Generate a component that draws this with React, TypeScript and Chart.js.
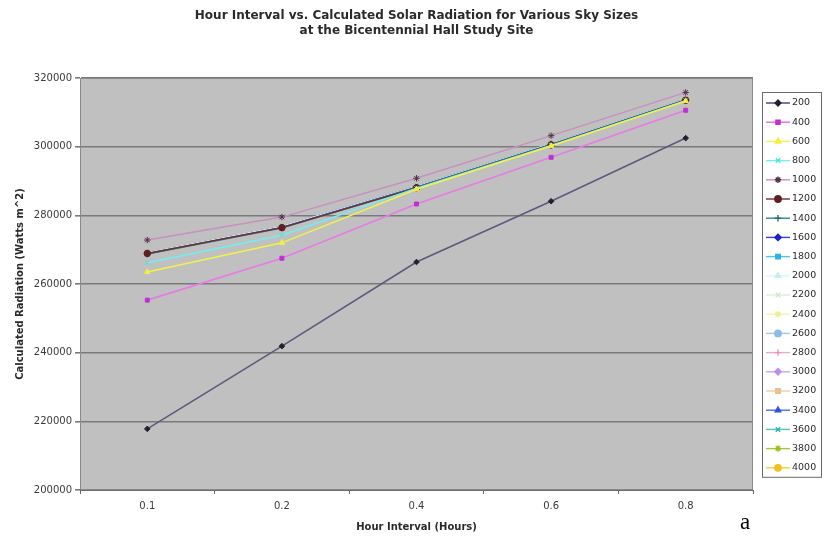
import React, { useEffect, useRef } from 'react';
import { Chart, registerables } from 'chart.js';
import { drawPoint } from 'chart.js/helpers';

Chart.register(...registerables);

// Hour interval categories (x axis)
const hourIntervals = ['0.1', '0.2', '0.4', '0.6', '0.8'];

// Sky sizes (one series each)
const skySizes = [
  '200', '400', '600', '800', '1000', '1200', '1400', '1600', '1800', '2000',
  '2200', '2400', '2600', '2800', '3000', '3200', '3400', '3600', '3800', '4000',
];

// Calculated radiation per sky size (Watts m^2)
const rad200 = [217800, 241900, 266400, 284100, 302500];
const rad400 = [255300, 267500, 283300, 296900, 310600];
const rad600 = [263500, 272000, 287600, 300200, 313300];
const rad800 = [266200, 274200, 287900, 300400, 313400];
const rad1000 = [272800, 279500, 290800, 303200, 315800];
const rad1200 = [268900, 276400, 288000, 300500, 313500];
const rad1400 = [268700, 276300, 288100, 300600, 313600];
const rad1600 = [268800, 276500, 288200, 300600, 313600];
const rad1800 = [268900, 276500, 288200, 300700, 313700];
const rad2000 = [269000, 276600, 288300, 300700, 313700];
const rad2200 = [269000, 276600, 288300, 300700, 313700];
const rad2400 = [269000, 276600, 288300, 300700, 313700];
const rad2600 = [269100, 276600, 288300, 300700, 313700];
const rad2800 = [269100, 276700, 288300, 300800, 313800];
const rad3000 = [269100, 276700, 288400, 300800, 313800];
const rad3200 = [269100, 276700, 288400, 300800, 313800];
const rad3400 = [269100, 276700, 288400, 300800, 313800];
const rad3600 = [269100, 276700, 288400, 300800, 313800];
const rad3800 = [269200, 276700, 288400, 300800, 313800];
const rad4000 = [269200, 276700, 288400, 300800, 313800];

const seriesValues = [
  rad200, rad400, rad600, rad800, rad1000, rad1200, rad1400, rad1600, rad1800, rad2000,
  rad2200, rad2400, rad2600, rad2800, rad3000, rad3200, rad3400, rad3600, rad3800, rad4000,
];

// Radiation axis ticks
const yMin = 200000;
const yMax = 320000;
const yStep = 20000;

const lineColors = [
  '#5a5a80', '#e77ae7', '#f2f24a', '#6ff0f0', '#c890c0', '#7a2a2a', '#2a8a8a', '#3a3aee', '#40c8f0', '#d8f4f4',
  '#d6f2d6', '#f4f2b0', '#a4c4ec', '#f0a8c8', '#c8a4ec', '#f0cca8', '#4a6af0', '#48c4c4', '#a8c82a', '#f2cc30',
];
const markerColors = [
  '#202030', '#c030d0', '#f0f040', '#50e0e0', '#503050', '#602020', '#207070', '#2020c0', '#30b0e0', '#c8eeee',
  '#c8ecc8', '#f0ee90', '#90b8e8', '#ec90bc', '#b890e8', '#ecc090', '#3050e0', '#30b0b0', '#98c020', '#f0c020',
];
const markerStyles = ['rectRot', 'rect', 'triangle', 'crossRot', 'star', 'circle', 'cross'];

const FONT = "'DejaVu Sans', 'Liberation Sans', Arial, sans-serif";

const plotBackground = {
  id: 'plotBackground',
  beforeDraw(chart: any) {
    const { ctx, chartArea: a, width, height } = chart;
    ctx.save();
    ctx.fillStyle = '#ffffff';
    ctx.fillRect(0, 0, width, height);
    ctx.fillStyle = '#c0c0c0';
    ctx.fillRect(a.left, a.top, a.right - a.left, a.bottom - a.top);
    ctx.restore();
  },
  afterDatasetsDraw(chart: any) {
    const { ctx, chartArea: a } = chart;
    ctx.save();
    ctx.strokeStyle = '#8a8a8a';
    ctx.lineWidth = 1;
    ctx.strokeRect(a.left + 0.5, a.top + 0.5, a.right - a.left - 1, a.bottom - a.top - 1);
    ctx.restore();
  },
};

// Boxed legend on the right, each entry showing the line with its marker
const boxLegend = {
  id: 'boxLegend',
  afterDraw(chart: any) {
    const { ctx, chartArea: a } = chart;
    const datasets = chart.data.datasets;
    const left = a.right + 9;
    const top = a.top + 14;
    const width = 59;
    const rowH = 19.2;
    const height = 11 + (datasets.length - 1) * rowH + 9;
    ctx.save();
    ctx.fillStyle = '#ffffff';
    ctx.fillRect(left, top, width, height);
    ctx.strokeStyle = '#6a6a6a';
    ctx.lineWidth = 1;
    ctx.strokeRect(left + 0.5, top + 0.5, width, height);
    datasets.forEach((ds: any, i: number) => {
      const y = top + 11 + i * rowH;
      ctx.strokeStyle = ds.borderColor;
      ctx.lineWidth = ds.borderWidth;
      ctx.beginPath();
      ctx.moveTo(left + 4, y);
      ctx.lineTo(left + 28, y);
      ctx.stroke();
      ctx.fillStyle = ds.pointBackgroundColor;
      ctx.strokeStyle = ds.pointBorderColor;
      drawPoint(ctx, { pointStyle: ds.pointStyle, radius: ds.pointRadius, rotation: 0, borderWidth: 1 }, left + 16, y);
      ctx.fillStyle = '#2a2a2a';
      ctx.font = `9.5px ${FONT}`;
      ctx.textBaseline = 'middle';
      ctx.textAlign = 'left';
      ctx.fillText(ds.label, left + 30, y);
    });
    ctx.restore();
  },
};

export default function App() {
  const canvasRef = useRef<HTMLCanvasElement | null>(null);

  useEffect(() => {
    if (!canvasRef.current) return;
    const datasets = skySizes.map((size, i) => ({
      label: size,
      data: seriesValues[i],
      borderColor: lineColors[i],
      borderWidth: i < 2 ? 1.6 : 1.4,
      pointStyle: markerStyles[i % markerStyles.length],
      pointRadius: i < 2 ? 2.8 : 3.2,
      pointBackgroundColor: markerColors[i],
      pointBorderColor: markerColors[i],
      pointBorderWidth: 1,
      fill: false,
      tension: 0,
    }));

    const chart = new Chart(canvasRef.current, {
      type: 'line',
      data: { labels: hourIntervals, datasets },
      plugins: [plotBackground, boxLegend],
      options: {
        responsive: false,
        animation: false,
        events: [],
        layout: { padding: { left: 0, right: 72, top: 4, bottom: 0 } },
        plugins: {
          legend: { display: false },
          tooltip: { enabled: false },
          title: {
            display: true,
            fullSize: false,
            text: [
              'Hour Interval vs. Calculated Solar Radiation for Various Sky Sizes',
              'at the Bicentennial Hall Study Site',
            ],
            color: '#2a2a2a',
            font: { family: FONT, size: 12, weight: 'bold', lineHeight: 1.25 },
            padding: { top: 4, bottom: 40 },
          },
        },
        scales: {
          x: {
            type: 'category',
            offset: true,
            afterFit: (scale: any) => { scale.height = 52; },
            grid: {
              display: true,
              drawOnChartArea: false,
              drawTicks: true,
              tickLength: 4,
              offset: true,
              color: '#6a6a6a',
            },
            border: { display: true, color: '#6a6a6a', width: 1 },
            ticks: {
              color: '#3a3a3a',
              padding: 6,
              font: { family: FONT, size: 10 },
            },
            title: {
              display: true,
              text: 'Hour Interval (Hours)',
              color: '#2a2a2a',
              font: { family: FONT, size: 10, weight: 'bold', lineHeight: 1.2 },
              padding: { top: 0, bottom: 9 },
            },
          },
          y: {
            min: yMin,
            max: yMax,
            afterFit: (scale: any) => { scale.width = 80; },
            grid: {
              color: '#7a7a7a',
              lineWidth: 1.6,
              drawTicks: true,
              tickLength: 5,
            },
            border: { display: true, color: '#5a5a5a', width: 1 },
            ticks: {
              stepSize: yStep,
              color: '#3a3a3a',
              padding: 3,
              font: { family: FONT, size: 10 },
              callback: (v: any) => String(v),
            },
            title: {
              display: true,
              text: 'Calculated Radiation (Watts m^2)',
              color: '#2a2a2a',
              font: { family: FONT, size: 10, weight: 'bold', lineHeight: 1.2 },
              padding: { top: 14, bottom: 0 },
            },
          },
        },
      },
    } as any);

    return () => chart.destroy();
  }, []);

  return (
    <div style={{ position: 'absolute', left: 0, top: 0, width: 825, height: 542, background: '#ffffff' }}>
      <canvas ref={canvasRef} width={825} height={542} style={{ display: 'block' }} />
      <span
        style={{
          position: 'absolute',
          left: 740,
          top: 509,
          fontFamily: "'Liberation Serif', 'Times New Roman', serif",
          fontSize: 23,
          color: '#000',
        }}
      >
        a
      </span>
    </div>
  );
}
